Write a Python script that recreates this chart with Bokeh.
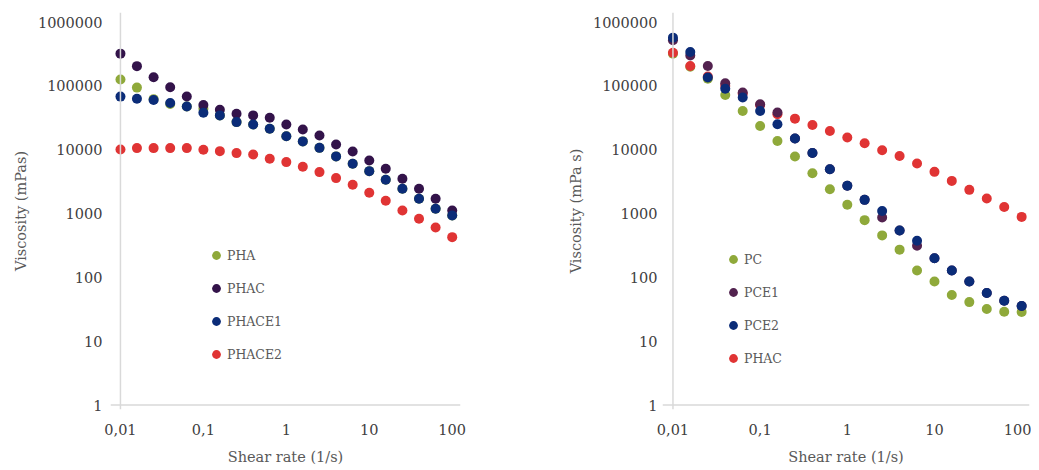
from bokeh.plotting import figure
from bokeh.layouts import row
from bokeh.models import Range1d, FixedTicker, Span, Legend, LegendItem
from bokeh.embed import file_html
from bokeh.resources import INLINE

# ---------------- data ----------------
shear_rate = [0.01, 0.0158, 0.0251, 0.0398, 0.0631, 0.1, 0.158, 0.251, 0.398, 0.631,
              1, 1.58, 2.51, 3.98, 6.31, 10, 15.8, 25.1, 39.8, 63.1, 100]

# left panel
PHA = [126000, 94000, 62000, 52000, 47700, 44000, 34500, 27100, 24900, 21300, 16300,
       13500, 10700, 7860, 6030, 4620, 3390, 2450, 1710, 1190, 934]
PHAC_left = [320000, 204000, 137000, 95000, 68400, 50000, 42300, 36600, 34500, 31600, 24900,
             20800, 16700, 12100, 9400, 6790, 5040, 3510, 2450, 1710, 1120]
PHACE1 = [68000, 63000, 60000, 54000, 47700, 38000, 34500, 27100, 24900, 21300, 16300,
          13500, 10700, 7860, 6030, 4620, 3390, 2450, 1710, 1190, 934]
PHACE2 = [10100, 10600, 10600, 10600, 10600, 10000, 9500, 8850, 8430, 7220, 6400,
          5400, 4460, 3590, 2820, 2120, 1590, 1120, 828, 605, 427]

# right panel
PC = [320000, 200000, 130000, 72000, 40400, 23600, 13700, 7810, 4290, 2410, 1370,
      788, 455, 272, 128, 86, 53, 41, 32, 29, 28.6]
PCE1 = [520000, 300000, 205000, 110000, 78500, 51500, 38200, 15000, 8910, 4950, 2720,
        1640, 869, 541, 314, 200, 128, 86, 57, 43, 35.5]
PCE2 = [570000, 340000, 135000, 90000, 65600, 40500, 25100, 15000, 8910, 4950, 2720,
        1640, 1100, 541, 376, 200, 128, 86, 57, 43, 35.5]
PHAC_right = [330000, 205000, 140000, 100000, 75000, 50000, 36000, 30700, 24400, 19700, 15500,
              12600, 9830, 8000, 6080, 4500, 3250, 2350, 1720, 1270, 887]

x_ticks = [0.01, 0.1, 1, 10, 100]
x_tick_labels = ["0,01", "0,1", "1", "10", "100"]
y_ticks = [1, 10, 100, 1000, 10000, 100000, 1000000]
y_tick_labels = ["1", "10", "100", "1000", "10000", "100000", "1000000"]

x_title = "Shear rate (1/s)"
y_title_left = "Viscosity (mPas)"
y_title_right = "Viscosity (mPa s)"

GREEN = "#8fa93a"
PURPLE = "#33134a"
PURPLE2 = "#52224f"
NAVY = "#0b2c78"
RED = "#e03434"

FONT = "DejaVu Serif"
TICK_COLOR = "#404040"
LABEL_COLOR = "#595959"
AXIS_LINE = "#d9d9d9"
MSIZE = 10


def make_fig(frame_w, border_l, border_r, x_hi_exp, y_title, ylab_standoff):
    p = figure(frame_width=frame_w, frame_height=397, x_axis_type="log", y_axis_type="log",
               x_range=Range1d(10 ** -2.12, 10 ** x_hi_exp),
               y_range=Range1d(10 ** -0.07, 10 ** 6.15),
               output_backend="svg", toolbar_location=None,
               min_border_left=border_l, min_border_right=border_r,
               min_border_top=12, min_border_bottom=50)
    p.outline_line_color = None
    p.xgrid.visible = False
    p.ygrid.visible = False
    for ax in (p.xaxis[0], p.yaxis[0]):
        ax.axis_line_color = None
        ax.major_tick_line_color = None
        ax.minor_tick_line_color = None
        ax.major_tick_out = 0
        ax.major_tick_in = 0
        ax.minor_tick_out = 0
        ax.minor_tick_in = 0
        ax.major_label_text_font = FONT
        ax.major_label_text_font_size = "14.5px"
        ax.major_label_text_color = TICK_COLOR
        ax.axis_label_text_font = FONT
        ax.axis_label_text_font_size = "14.5px"
        ax.axis_label_text_font_style = "normal"
        ax.axis_label_text_color = LABEL_COLOR
    p.xaxis[0].ticker = FixedTicker(ticks=x_ticks, minor_ticks=[])
    p.yaxis[0].ticker = FixedTicker(ticks=y_ticks, minor_ticks=[])
    p.xaxis[0].major_label_overrides = dict(zip(x_ticks, x_tick_labels))
    p.yaxis[0].major_label_overrides = dict(zip(y_ticks, y_tick_labels))
    p.xaxis[0].major_label_standoff = 14
    p.yaxis[0].major_label_standoff = ylab_standoff
    p.xaxis[0].axis_label = x_title
    p.yaxis[0].axis_label = y_title
    p.xaxis[0].axis_label_standoff = 11
    p.yaxis[0].axis_label_standoff = 6
    p.add_layout(Span(location=x_ticks[0], dimension="height", line_color=AXIS_LINE, line_width=1.5))
    p.add_layout(Span(location=y_ticks[0], dimension="width", line_color=AXIS_LINE, line_width=1.5))
    return p


def add_legend(p, items, loc):
    legend = Legend(items=[LegendItem(label=n, renderers=[r]) for n, r in items],
                    location=loc, orientation="vertical",
                    glyph_width=22, glyph_height=22, label_height=22, spacing=11,
                    padding=0, margin=0, border_line_color=None,
                    background_fill_alpha=0, label_standoff=0,
                    label_text_font=FONT, label_text_font_size="12.5px",
                    label_text_color=LABEL_COLOR)
    p.add_layout(legend)


# ---------------- left ----------------
left = make_fig(350, 110, 60, 2.1, y_title_left, 8)
r_pha = left.scatter(shear_rate, PHA, size=MSIZE, color=GREEN, line_color=None)
r_phac = left.scatter(shear_rate, PHAC_left, size=MSIZE, color=PURPLE, line_color=None)
r_phace1 = left.scatter(shear_rate, PHACE1, size=MSIZE, color=NAVY, line_color=None)
r_phace2 = left.scatter(shear_rate, PHACE2, size=MSIZE, color=RED, line_color=None)
add_legend(left, [("PHA", r_pha), ("PHAC", r_phac), ("PHACE1", r_phace1), ("PHACE2", r_phace2)], (95, 44))

# ---------------- right ----------------
right = make_fig(367, 142, 2, 2.09, y_title_right, 5)
r_pc = right.scatter(shear_rate, PC, size=MSIZE, color=GREEN, line_color=None)
r_phac2 = right.scatter(shear_rate, PHAC_right, size=MSIZE, color=RED, line_color=None)
r_pce1 = right.scatter(shear_rate, PCE1, size=MSIZE, color=PURPLE2, line_color=None)
r_pce2 = right.scatter(shear_rate, PCE2, size=MSIZE, color=NAVY, line_color=None)
add_legend(right, [("PC", r_pc), ("PCE1", r_pce1), ("PCE2", r_pce2), ("PHAC", r_phac2)], (60, 40))

layout = row(left, right)
open("out.html", "w").write(file_html(layout, INLINE))
